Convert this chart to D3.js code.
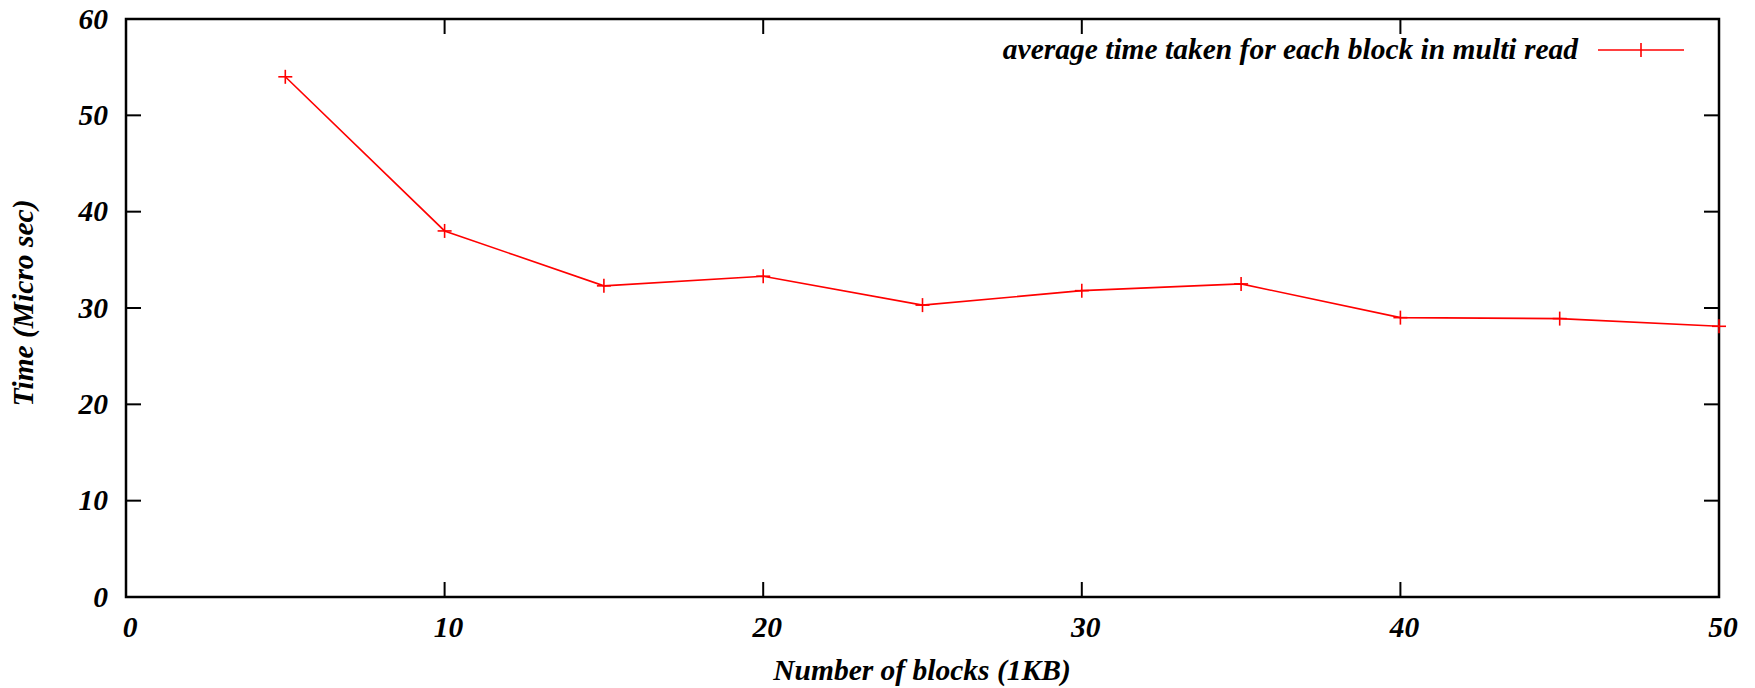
<!DOCTYPE html>
<html>
<head>
<meta charset="utf-8">
<script src="https://cdn.jsdelivr.net/npm/d3@7"></script>
<style>
  html, body { margin: 0; padding: 0; background: #fff; }
  svg text { font-family: "Liberation Serif", "Times New Roman", serif; font-style: italic; font-weight: bold; }
</style>
</head>
<body>
<svg width="1755" height="688"></svg>
<script>
// data
var blocks = [5, 10, 15, 20, 25, 30, 35, 40, 45, 50];
var avgTime = [54.0, 38.0, 32.3, 33.3, 30.3, 31.8, 32.5, 29.0, 28.9, 28.1];
var xTicks = [0, 10, 20, 30, 40, 50];
var yTicks = [0, 10, 20, 30, 40, 50, 60];
var seriesName = "average time taken for each block in multi read";

(function() {
  var svg = d3.select("svg");
  var plot = { left: 126, right: 1719, top: 19, bottom: 597 };
  var tickLen = 15;
  var fs = 29.5;

  var x = d3.scaleLinear().domain([0, 50]).range([plot.left, plot.right]);
  var y = d3.scaleLinear().domain([0, 60]).range([plot.bottom, plot.top]);

  // ticks on all four sides, pointing in
  var ticks = svg.append("g").attr("stroke", "#000").attr("stroke-width", 2);
  yTicks.forEach(function(v) {
    ticks.append("line").attr("x1", plot.left).attr("x2", plot.left + tickLen).attr("y1", y(v)).attr("y2", y(v));
    ticks.append("line").attr("x1", plot.right).attr("x2", plot.right - tickLen).attr("y1", y(v)).attr("y2", y(v));
  });
  xTicks.forEach(function(v) {
    ticks.append("line").attr("x1", x(v)).attr("x2", x(v)).attr("y1", plot.bottom).attr("y2", plot.bottom - tickLen);
    ticks.append("line").attr("x1", x(v)).attr("x2", x(v)).attr("y1", plot.top).attr("y2", plot.top + tickLen);
  });

  svg.append("rect")
    .attr("x", plot.left).attr("y", plot.top)
    .attr("width", plot.right - plot.left).attr("height", plot.bottom - plot.top)
    .attr("fill", "none").attr("stroke", "#000").attr("stroke-width", 2.5);

  svg.append("g").selectAll("text").data(yTicks).enter().append("text")
    .attr("x", plot.left - 18).attr("y", function(d) { return y(d) + 9.5; })
    .attr("text-anchor", "end").attr("font-size", fs)
    .text(function(d) { return d; });

  svg.append("g").selectAll("text").data(xTicks).enter().append("text")
    .attr("x", function(d) { return x(d) + 4; }).attr("y", plot.bottom + 40)
    .attr("text-anchor", "middle").attr("font-size", fs)
    .text(function(d) { return d; });

  svg.append("text").attr("x", 922).attr("y", 680)
    .attr("text-anchor", "middle").attr("font-size", fs)
    .text("Number of blocks (1KB)");

  svg.append("text").attr("transform", "translate(33,303) rotate(-90)")
    .attr("text-anchor", "middle").attr("font-size", fs)
    .text("Time (Micro sec)");

  // series
  var pts = blocks.map(function(b, i) { return [b, avgTime[i]]; });
  var line = d3.line().x(function(d) { return x(d[0]); }).y(function(d) { return y(d[1]); });

  svg.append("path").datum(pts)
    .attr("d", line).attr("fill", "none")
    .attr("stroke", "#ff0000").attr("stroke-width", 1.6);

  var m = 7;
  var marks = svg.append("g").attr("stroke", "#ff0000").attr("stroke-width", 1.6);
  pts.forEach(function(p) {
    var cx = x(p[0]), cy = y(p[1]);
    marks.append("line").attr("x1", cx - m).attr("x2", cx + m).attr("y1", cy).attr("y2", cy);
    marks.append("line").attr("x1", cx).attr("x2", cx).attr("y1", cy - m).attr("y2", cy + m);
  });

  // legend
  svg.append("text").attr("x", 1578).attr("y", 59)
    .attr("text-anchor", "end").attr("font-size", fs)
    .text(seriesName);
  marks.append("line").attr("x1", 1598).attr("x2", 1684).attr("y1", 50).attr("y2", 50);
  marks.append("line").attr("x1", 1641).attr("x2", 1641).attr("y1", 43).attr("y2", 57);
})();
</script>
</body>
</html>
